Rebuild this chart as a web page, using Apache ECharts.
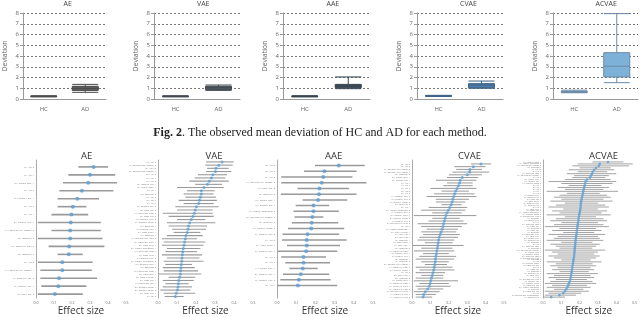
<!DOCTYPE html>
<html><head><meta charset="utf-8">
<script src="https://cdn.jsdelivr.net/npm/echarts@6/dist/echarts.min.js"></script>
<style>html,body{margin:0;padding:0;background:#fff}#c{width:640px;height:317px}</style>
</head><body><div id="c"></div>
<script>
// ---------- data ----------
const methods = ['AE', 'VAE', 'AAE', 'CVAE', 'ACVAE'];
const groups = ['HC', 'AD'];
// [min, q1, median, q3, max] for HC and AD
const boxAE    = [[0.20, 0.22, 0.25, 0.27, 0.30], [0.62, 0.80, 0.99, 1.18, 1.36]];
const boxVAE   = [[0.20, 0.22, 0.25, 0.27, 0.30], [0.80, 0.87, 1.05, 1.18, 1.30]];
const boxAAE   = [[0.20, 0.22, 0.25, 0.27, 0.30], [0.96, 1.05, 1.20, 1.36, 2.05]];
const boxCVAE  = [[0.24, 0.26, 0.29, 0.31, 0.34], [1.00, 1.05, 1.30, 1.43, 1.67]];
const boxACVAE = [[0.58, 0.62, 0.66, 0.72, 0.82], [1.52, 2.05, 3.05, 4.31, 7.94]];
const meanAE = [0.25, 1.00], meanVAE = [0.25, 1.05], meanAAE = [0.25, 1.22], meanCVAE = [0.29, 1.28], meanACVAE = [0.67, 3.22];

const aeNames = ['LH_Vis_3','LH_Vis_1','RH_Limbic_OFC_1','RH_Vis_7','RH_Default_Par_1','RH_Vis_6','RH_Vis_1','RH_Default_PCC_1','LH_SalVentAttn_FrOper_2','RH_SomMot_2','RH_DorsAttn_Post_3','RH_SomMot_6','RH_Vis_2','LH_SalVentAttn_FrOper_1','LH_DorsAttn_FEF_2','LH_Default_PFC_4','RH_Cont_Par_2'];
const aeMean = [0.32,0.30,0.29,0.255,0.23,0.205,0.197,0.193,0.19,0.19,0.184,0.182,0.146,0.146,0.128,0.124,0.105];
const aeLow  = [0.235,0.18,0.15,0.13,0.12,0.12,0.086,0.01,0.086,0.01,0.07,0.12,0.01,0.024,0.024,0.03,0.01];
const aeHigh = [0.40,0.44,0.45,0.43,0.35,0.28,0.29,0.36,0.36,0.37,0.38,0.26,0.315,0.31,0.34,0.28,0.26];

const vaeNames = ['RH_Vis_3','LH_SalVentAttn_FrOper_2','LH_Vis_10','LH_SalVentAttn_FrOper_1','RH_Vis_6','RH_Vis_4','RH_Vis_8','RH_Default_Par_1','RH_Limbic_OFC_1','LH_Vis_4','RH_SomMot_3','RH_Vis_5','RH_Vis_7','LH_Vis_1','LH_Default_PFC_6','RH_Cont_Par_3','LH_DorsAttn_Post_6','RH_Cont_Par_2','RH_Default_PCC_2','LH_Default_Temp_2','RH_SomMot_4','LH_Default_PCC_1','LH_Cont_pCun_1','RH_SomMot_1','LH_SalVentAttn_Med_3','LH_DorsAttn_PrCv_1','RH_Cont_PFCl_1','LH_Limbic_TempPole_1','LH_DorsAttn_Post_4','LH_Cont_PFCl_1','LH_Default_PCC_2','LH_Limbic_TempPole_2','RH_Default_PFCv_1','RH_SomMot_8','RH_DorsAttn_Post_1','RH_Cont_OFC_1','RH_Cont_PFCmp_1','LH_Cont_Par_1','LH_DorsAttn_FEF_1','RH_Default_Temp_1','RH_Default_Temp_2','RH_Cont_Par_1','LH_Vis_7'];
const vaeMean = [0.337,0.32,0.305,0.302,0.289,0.281,0.27,0.26,0.242,0.228, 0.228,0.223,0.218,0.214,0.202,0.196,0.191,0.184,0.175,0.167, 0.161,0.158,0.154,0.147,0.144,0.14,0.137,0.133,0.13,0.128, 0.126,0.125,0.123,0.121,0.119,0.118,0.114,0.11,0.107,0.105, 0.102,0.096,0.091];
const vaeLow  = [0.253,0.249,0.258,0.253,0.21,0.193,0.165,0.196,0.1,0.153, 0.135,0.144,0.109,0.135,0.091,0.1,0.025,0.056,0.1,0.047, 0.056,0.074,0.082,0.047,0.021,0.03,0.021,0.047,0.039,0.021, 0.047,0.03,0.039,0.025,0.03,0.004,0.056,0.025,0.039,0.025, 0.012,0.03,0.035];
const vaeHigh = [0.398,0.393,0.372,0.386,0.363,0.354,0.372,0.337,0.346,0.298, 0.293,0.305,0.31,0.293,0.319,0.288,0.288,0.293,0.249,0.302, 0.258,0.253,0.223,0.235,0.205,0.249,0.24,0.223,0.205,0.232, 0.218,0.24,0.179,0.193,0.211,0.228,0.196,0.188,0.161,0.179, 0.17,0.196,0.135];

const aaeNames = ['RH_Vis_3','RH_Vis_8','LH_Vis_3','LH_SalVentAttn_FrOper_2','RH_Cont_Par_2','RH_SomMot_2','RH_Limbic_OFC_1','RH_Default_Par_1','LH_Limbic_TempPole_2','RH_SalVentAttn_FrOper_1','RH_SomMot_6','LH_Default_Temp_2','LH_Default_PCC_2','LH_Vis_6','LH_Cont_pCun_1','LH_Default_PCC_1','RH_Vis_2','RH_Vis_4','LH_Limbic_OFC_1','RH_Default_PCC_1','LH_Default_PFC_6','RH_Vis_1'];
const aaeMean = [0.322,0.247,0.241,0.233,0.221,0.219,0.214,0.19,0.19,0.184,0.181,0.178,0.159,0.155,0.155,0.152,0.138,0.138,0.134,0.124,0.114,0.109];
const aaeLow  = [0.198,0.141,0.022,0.022,0.107,0.02,0.133,0.097,0.086,0.091,0.078,0.057,0.029,0.026,0.052,0.003,0.022,0.043,0.064,0.031,0.017,0.0];
const aaeHigh = [0.457,0.414,0.393,0.466,0.376,0.414,0.366,0.272,0.322,0.241,0.319,0.35,0.324,0.362,0.328,0.314,0.255,0.276,0.212,0.272,0.279,0.314];

const cvaeNames = ['RH_Vis_3','RH_Vis_8','LH_SalVentAttn_FrOper_2','LH_SalVentAttn_FrOper_1','RH_SomMot_6','RH_Limbic_OFC_1','RH_Default_Par_1','LH_Vis_4','LH_Vis_1','RH_Vis_4','RH_Vis_6','RH_Vis_5','LH_Default_PCC_1','RH_Default_PCC_2','LH_Default_Temp_2','RH_Cont_Par_2','RH_Vis_1','LH_Limbic_TempPole_2','LH_Default_PCC_2','RH_Default_PFCv_1','RH_Default_Temp_2','LH_Default_PFC_6','LH_SalVentAttn_Med_3','RH_Vis_7','LH_Limbic_TempPole_1','RH_Cont_PFCmp_1','LH_Cont_Par_1','RH_Cont_Par_1','RH_SomMot_4','LH_Cont_pCun_1','LH_Cont_PFCl_1','RH_SomMot_3','LH_DorsAttn_Post_4','RH_Default_PCC_1','LH_Default_PFC_4','RH_SomMot_1','LH_SomMot_2','RH_SalVentAttn_FrOper_1','LH_DorsAttn_Post_6','LH_Default_Temp_1','LH_Vis_6','RH_Cont_PFCl_1','RH_SomMot_8','LH_Limbic_OFC_1','RH_DorsAttn_Post_1','LH_DorsAttn_PrCv_1','RH_DorsAttn_Post_3','LH_SalVentAttn_Med_1','LH_DorsAttn_FEF_1','LH_DorsAttn_FEF_2'];
const cvaeMean = [0.375,0.333,0.315,0.313,0.30,0.273,0.262,0.258,0.252,0.245, 0.238,0.232,0.227,0.222,0.218,0.213,0.205,0.198,0.19,0.184, 0.18,0.176,0.172,0.168,0.164,0.158,0.153,0.148,0.145,0.142, 0.14,0.138,0.135,0.132,0.13,0.128,0.126,0.124,0.121,0.118, 0.114,0.11,0.106,0.102,0.098,0.094,0.085,0.072,0.064,0.06];
const cvaeLow  = [0.32,0.23,0.24,0.22,0.20,0.19,0.13,0.19,0.17,0.10, 0.16,0.12,0.08,0.13,0.13,0.16,0.09,0.05,0.11,0.01, 0.11,0.09,0.03,0.05,0.08,0.05,0.06,0.04,0.03,0.07, 0.0,0.05,0.01,0.06,0.04,0.02,0.05,0.07,0.02,0.04, 0.02,0.05,0.02,0.01,0.04,0.02,0.03,0.01,0.02,0.02];
const cvaeHigh = [0.43,0.40,0.38,0.42,0.38,0.36,0.35,0.33,0.33,0.35, 0.31,0.34,0.35,0.31,0.29,0.27,0.30,0.29,0.27,0.35, 0.26,0.28,0.30,0.27,0.25,0.24,0.26,0.25,0.23,0.22, 0.28,0.22,0.23,0.20,0.24,0.23,0.20,0.19,0.22,0.23, 0.18,0.17,0.17,0.25,0.20,0.21,0.17,0.15,0.13,0.11];

const acvaeNames = ['RH_Cont_PFCmp_1','LH_Limbic_TempPole_2','LH_SalVentAttn_FrOper_2','RH_SomMot_6','LH_Vis_10','RH_Vis_3','LH_DorsAttn_Post_4','LH_SalVentAttn_FrOper_1','RH_Vis_8','RH_Limbic_OFC_1','RH_Default_Par_1','LH_Default_Temp_2','RH_Vis_4','LH_Vis_4','RH_Vis_6','LH_Vis_1','RH_Vis_5','LH_Default_PCC_1','RH_Default_PCC_2','RH_Cont_Par_2','LH_Cont_pCun_1','RH_Default_PFCv_1','LH_Default_PFC_6','RH_Vis_7','LH_Cont_PFCl_1','RH_Cont_Par_3','LH_Limbic_TempPole_1','RH_Default_Temp_2','LH_SalVentAttn_Med_3','RH_SomMot_4','LH_Default_PCC_2','RH_Vis_1','LH_DorsAttn_Post_6','RH_Cont_Par_1','RH_SomMot_3','LH_Cont_Par_1','RH_SomMot_1','LH_DorsAttn_PrCv_1','RH_Cont_PFCl_1','RH_Default_PCC_1','LH_Default_PFC_4','RH_SomMot_8','LH_Vis_6','RH_DorsAttn_Post_1','LH_SomMot_2','RH_SalVentAttn_FrOper_1','LH_Limbic_OFC_1','LH_Default_Temp_1','RH_DorsAttn_Post_3','LH_SalVentAttn_Med_1','RH_SomMot_2','LH_Vis_3','RH_Default_Temp_1','LH_DorsAttn_FEF_1','RH_Vis_2','LH_Cont_Par_2','RH_SomMot_5','LH_Default_PFC_2','RH_Cont_OFC_1','LH_Vis_7','RH_SalVentAttn_Med_2','LH_Default_Par_1','RH_Default_PFCm_1','LH_DorsAttn_FEF_2','RH_Limbic_TempPole_1','LH_SomMot_4','RH_DorsAttn_FEF_1','LH_Vis_2','RH_SalVentAttn_TempOccPar_1','LH_Default_PFC_1'];
const acvaeMean = [0.355,0.31,0.305,0.29,0.28,0.272,0.268,0.262,0.256,0.24, 0.232,0.23,0.227,0.225,0.222,0.22,0.218,0.216,0.213,0.211, 0.209,0.207,0.206,0.205,0.204,0.202,0.2,0.198,0.196,0.194, 0.193,0.191,0.19,0.188,0.187,0.185,0.184,0.182,0.181,0.179, 0.178,0.177,0.176,0.175,0.174,0.173,0.172,0.171,0.17,0.168, 0.166,0.165,0.163,0.161,0.16,0.158,0.157,0.155,0.153,0.151, 0.149,0.146,0.142,0.138,0.133,0.127,0.12,0.11,0.09,0.045];
const acvaeLow  = [0.27,0.19,0.16,0.20,0.14,0.19,0.13,0.17,0.16,0.12, 0.03,0.10,0.14,0.08,0.12,0.02,0.13,0.09,0.06,0.10, 0.04,0.12,0.07,0.03,0.11,0.05,0.09,0.02,0.12,0.07, 0.04,0.10,0.06,0.01,0.09,0.05,0.11,0.03,0.08,0.06, 0.02,0.10,0.04,0.07,0.09,0.01,0.05,0.08,0.03,0.06, 0.10,0.02,0.07,0.04,0.08,0.05,0.09,0.02,0.06,0.03, 0.07,0.04,0.01,0.05,0.02,0.06,0.01,0.03,0.01,0.0];
const acvaeHigh = [0.44,0.49,0.47,0.37,0.39,0.35,0.40,0.36,0.34,0.37, 0.40,0.38,0.32,0.36,0.33,0.41,0.31,0.35,0.37,0.33, 0.38,0.30,0.34,0.36,0.30,0.35,0.32,0.37,0.29,0.33, 0.35,0.30,0.33,0.36,0.29,0.32,0.28,0.34,0.30,0.31, 0.33,0.27,0.31,0.29,0.27,0.34,0.30,0.28,0.31,0.29, 0.26,0.32,0.27,0.29,0.26,0.28,0.25,0.30,0.26,0.28, 0.24,0.27,0.29,0.24,0.26,0.22,0.25,0.21,0.18,0.12];

const caption = 'The observed mean deviation of HC and AD for each method.';

// ---------- layout / style ----------
const FONT = 'Open Sans';
const boxes = [boxAE, boxVAE, boxAAE, boxCVAE, boxACVAE];
const means = [meanAE, meanVAE, meanAAE, meanCVAE, meanACVAE];
const boxFill = ['#5f5f5f', '#4f5962', '#3f4e5b', '#4b7da8', '#7eb1d8'];
const boxEdge = ['#4a4a4a', '#444a50', '#364450', '#3f6488', '#6a8aa6'];
const topLayout = [{l: 21, w: 85}, {l: 154, w: 86}, {l: 283, w: 87}, {l: 417, w: 86}, {l: 553, w: 85}];

const forest = [
  {n: aeNames, m: aeMean, lo: aeLow, hi: aeHigh, l: 36, w: 90, ymin: -0.87, ymax: 16.5, lw: 1.6, ds: 4, fs: 2.4},
  {n: vaeNames, m: vaeMean, lo: vaeLow, hi: vaeHigh, l: 158, w: 95, ymin: -0.6, ymax: 42.5, lw: 1.1, ds: 3, fs: 2.3},
  {n: aaeNames, m: aaeMean, lo: aaeLow, hi: aaeHigh, l: 277, w: 96, ymin: -0.98, ymax: 23.19, lw: 1.5, ds: 4, fs: 2.4},
  {n: cvaeNames, m: cvaeMean, lo: cvaeLow, hi: cvaeHigh, l: 412, w: 92, ymin: -1.45, ymax: 49.36, lw: 1.0, ds: 3, fs: 2.2},
  {n: acvaeNames, m: acvaeMean, lo: acvaeLow, hi: acvaeHigh, l: 543, w: 92, ymin: -1.0, ymax: 69.5, lw: 0.9, ds: 2.6, fs: 2.0}
];

const grid = [], xAxis = [], yAxis = [], series = [], graphic = [];

methods.forEach((name, i) => {
  const L = topLayout[i];
  grid.push({left: L.l, top: 13, width: L.w, height: 86});
  xAxis.push({
    type: 'category', gridIndex: i, data: groups, boundaryGap: true,
    axisLine: {lineStyle: {color: '#999', width: 1}},
    axisTick: {alignWithLabel: true, length: 3, lineStyle: {color: '#999'}},
    axisLabel: {fontSize: 6, color: '#666', margin: 7, fontFamily: FONT}
  });
  yAxis.push({
    type: 'value', gridIndex: i, min: 0, max: 8, interval: 1,
    name: 'Deviation', nameLocation: 'middle', nameGap: 15, nameRotate: 90,
    nameTextStyle: {fontSize: 7, color: '#666', fontFamily: FONT},
    axisLine: {show: true, lineStyle: {color: '#999', width: 1}},
    axisTick: {show: true, length: 3, lineStyle: {color: '#999'}},
    axisLabel: {fontSize: 6, color: '#666', margin: 4, fontFamily: FONT},
    splitLine: {show: true, lineStyle: {color: '#555', type: [2, 2], width: 0.8}}
  });
  series.push({
    type: 'boxplot', xAxisIndex: i, yAxisIndex: i, data: boxes[i], boxWidth: [26, 26],
    itemStyle: {color: boxFill[i], borderColor: boxEdge[i], borderWidth: 1},
    emphasis: {disabled: true}
  });
  series.push({
    type: 'custom', xAxisIndex: i, yAxisIndex: i,
    data: means[i].map((v, k) => [k, v]),
    renderItem: (params, api) => {
      const p = api.coord([api.value(0), api.value(1)]);
      const half = 12.5;
      return {type: 'line', shape: {x1: p[0] - half, y1: p[1], x2: p[0] + half, y2: p[1]},
        style: {stroke: '#2f3a44', lineWidth: 0.9, lineDash: [1.5, 1.2]}};
    }
  });
  graphic.push({type: 'text', left: L.l + L.w / 2, top: 0,
    style: {text: name, fontSize: 7, fill: '#444', fontFamily: FONT, align: 'center'}});
});

forest.forEach((f, j) => {
  const gi = 5 + j;
  grid.push({left: f.l, top: 160, width: f.w, height: 140});
  xAxis.push({
    type: 'value', gridIndex: gi, min: 0, max: 0.5, interval: 0.1,
    name: 'Effect size', nameLocation: 'middle', nameGap: 7,
    nameTextStyle: {fontSize: 10, color: '#333', fontFamily: FONT},
    axisLine: {show: false}, axisTick: {show: false}, splitLine: {show: false},
    axisLabel: {fontSize: 3.5, color: '#666', margin: 3, fontFamily: FONT, formatter: v => v.toFixed(1)}
  });
  const idx = f.n.map((_, k) => k);
  yAxis.push({
    type: 'value', gridIndex: gi, inverse: true, min: f.ymin, max: f.ymax,
    axisLine: {show: true, lineStyle: {color: '#aaa', width: 1}},
    axisTick: {show: false}, splitLine: {show: false},
    axisLabel: {customValues: idx, formatter: v => f.n[v] || '', fontSize: f.fs, color: '#777', margin: 2, fontFamily: FONT}
  });
  series.push({
    type: 'custom', xAxisIndex: gi, yAxisIndex: gi,
    data: f.n.map((_, k) => [f.lo[k], f.hi[k], k]),
    renderItem: (params, api) => {
      const a = api.coord([api.value(0), api.value(2)]);
      const b = api.coord([api.value(1), api.value(2)]);
      return {type: 'line', shape: {x1: a[0], y1: a[1], x2: b[0], y2: b[1]},
        style: {stroke: '#9a9a9a', lineWidth: f.lw}};
    }
  });
  series.push({
    type: 'scatter', xAxisIndex: gi, yAxisIndex: gi, symbol: 'circle', symbolSize: f.ds,
    data: f.m.map((v, k) => [v, k]),
    itemStyle: {color: '#5b9fd4'}, emphasis: {disabled: true}
  });
  graphic.push({type: 'text', left: f.l + f.w / 2, top: 151,
    style: {text: methods[j], fontSize: 9.5, fill: '#333', fontFamily: FONT, align: 'center'}});
});

graphic.push({type: 'text', x: 320, y: 127,
  style: {text: '{b|Fig. 2}. ' + caption, fontSize: 12, fill: '#222', fontFamily: 'Liberation Serif', align: 'center',
    rich: {b: {fontWeight: 'bold', fontSize: 12, fontFamily: 'Liberation Serif', fill: '#222'}}}});

const chart = echarts.init(document.getElementById('c'), null, {renderer: 'canvas'});
chart.setOption({animation: false, grid, xAxis, yAxis, series, graphic});
</script></body></html>
